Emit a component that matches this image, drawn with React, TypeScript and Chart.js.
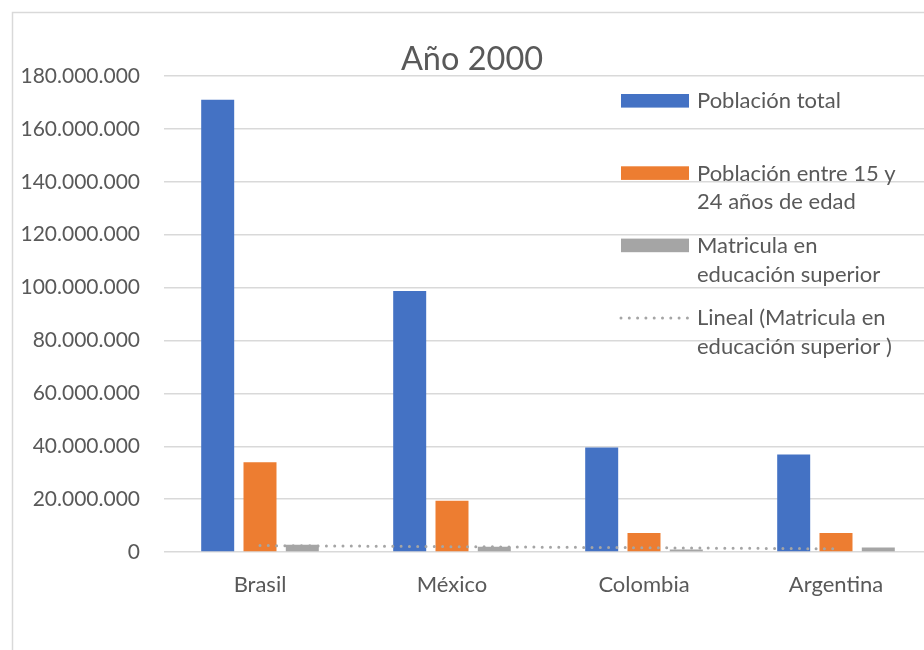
import React, { useEffect, useRef } from "react";
import { Chart, registerables } from "chart.js";

Chart.register(...registerables);

const categories = ["Brasil", "México", "Colombia", "Argentina"];
const poblacionTotal = [171000000, 98700000, 39500000, 36900000];
const poblacion15a24 = [33900000, 19400000, 7200000, 7200000];
const matriculaSuperior = [2700000, 2000000, 900000, 1700000];

const yTicksMax = 180000000;
const yTicksStep = 20000000;

const titleText = "Año 2000";
const legendEntries = [
  { lines: ["Población total"], color: "#4472C4", kind: "box" },
  { lines: ["Población entre 15 y", "24 años de edad"], color: "#ED7D31", kind: "box" },
  { lines: ["Matricula en", "educación superior"], color: "#A5A5A5", kind: "box" },
  { lines: ["Lineal (Matricula en", "educación superior )"], color: "#A5A5A5", kind: "dots" },
];

const TEXT = "#595959";
const FONT = "Lato, 'Liberation Sans', sans-serif";

// Least-squares linear trend of a series over its category index
function linearTrend(values: number[]): number[] {
  const n = values.length;
  const mx = (n - 1) / 2;
  const my = values.reduce((a, b) => a + b, 0) / n;
  let sxy = 0;
  let sxx = 0;
  values.forEach((v, i) => {
    sxy += (i - mx) * (v - my);
    sxx += (i - mx) * (i - mx);
  });
  const slope = sxy / sxx;
  return values.map((_, i) => my + slope * (i - mx));
}

function formatThousands(v: number): string {
  return String(Math.round(v)).replace(/\B(?=(\d{3})+(?!\d))/g, ".");
}

const decorPlugin = {
  id: "decor",
  beforeDraw(chart: any) {
    const ctx = chart.ctx;
    ctx.save();
    ctx.fillStyle = "#ffffff";
    ctx.fillRect(0, 0, chart.width, chart.height);
    // outer frame
    ctx.strokeStyle = "#D9D9D9";
    ctx.lineWidth = 1.5;
    ctx.strokeRect(12.5, 12.5, chart.width + 40, chart.height + 40);
    ctx.restore();
  },
  afterDraw(chart: any) {
    const ctx = chart.ctx;
    ctx.save();
    // title
    ctx.fillStyle = TEXT;
    ctx.font = `32.5px ${FONT}`;
    ctx.textAlign = "center";
    ctx.textBaseline = "alphabetic";
    ctx.fillText(titleText, 472, 70);

    // legend
    ctx.font = `22px ${FONT}`;
    ctx.textAlign = "left";
    legendEntries.forEach((entry, i) => {
      const base = 108.3 + i * 72.3;
      if (entry.kind === "box") {
        ctx.fillStyle = entry.color;
        ctx.fillRect(621, base - 14.3, 68, 13.6);
      } else {
        ctx.strokeStyle = entry.color;
        ctx.lineWidth = 3;
        ctx.lineCap = "round";
        ctx.setLineDash([0, 8.3]);
        ctx.beginPath();
        ctx.moveTo(621, base - 7.3);
        ctx.lineTo(689, base - 7.3);
        ctx.stroke();
        ctx.setLineDash([]);
      }
      ctx.fillStyle = TEXT;
      entry.lines.forEach((line, j) => {
        ctx.fillText(line, 697, base + j * 28.7);
      });
    });
    ctx.restore();
  },
};

export default function App() {
  const canvasRef = useRef<HTMLCanvasElement | null>(null);

  useEffect(() => {
    if (!canvasRef.current) return;
    const trend = linearTrend(matriculaSuperior);
    const chart = new Chart(canvasRef.current, {
      type: "bar",
      data: {
        labels: categories,
        datasets: [
          {
            type: "line",
            label: "Lineal (Matricula en educación superior )",
            data: trend,
            borderColor: "#A5A5A5",
            borderWidth: 3,
            borderDash: [0, 8.3],
            borderCapStyle: "round",
            pointRadius: 0,
            fill: false,
            order: 0,
          } as any,
          {
            label: "Población total",
            data: poblacionTotal,
            backgroundColor: "#4472C4",
            order: 1,
          },
          {
            label: "Población entre 15 y 24 años de edad",
            data: poblacion15a24,
            backgroundColor: "#ED7D31",
            order: 1,
          },
          {
            label: "Matricula en educación superior",
            data: matriculaSuperior,
            backgroundColor: "#A5A5A5",
            order: 1,
          },
        ],
      },
      options: {
        animation: false,
        responsive: false,
        devicePixelRatio: 1,
        layout: { padding: { left: 0, right: 18, top: 76, bottom: 0 } },
        datasets: {
          bar: { categoryPercentage: 0.661, barPercentage: 0.78 },
        },
        plugins: {
          legend: { display: false },
          title: { display: false },
          tooltip: { enabled: false },
        },
        scales: {
          x: {
            grid: { display: false, drawTicks: false },
            border: { display: false },
            ticks: {
              color: TEXT,
              font: { family: FONT, size: 22 },
              padding: 20,
              maxRotation: 0,
            },
            afterFit: (s: any) => {
              s.height = 98;
            },
          },
          y: {
            min: 0,
            max: yTicksMax,
            grid: { color: "#D9D9D9", lineWidth: 1.4, drawTicks: false },
            border: { display: false },
            ticks: {
              stepSize: yTicksStep,
              color: TEXT,
              font: { family: FONT, size: 21 },
              padding: 24,
              callback: (v: any) => formatThousands(Number(v)),
            },
            afterFit: (s: any) => {
              s.width = 164;
            },
          },
        },
      },
      plugins: [decorPlugin],
    });
    return () => chart.destroy();
  }, []);

  return (
    <div
      style={{
        position: "fixed",
        left: 0,
        top: 0,
        width: 924,
        height: 650,
        overflow: "hidden",
        background: "#ffffff",
      }}
    >
      <canvas ref={canvasRef} width={950} height={650} style={{ display: "block" }} />
    </div>
  );
}
